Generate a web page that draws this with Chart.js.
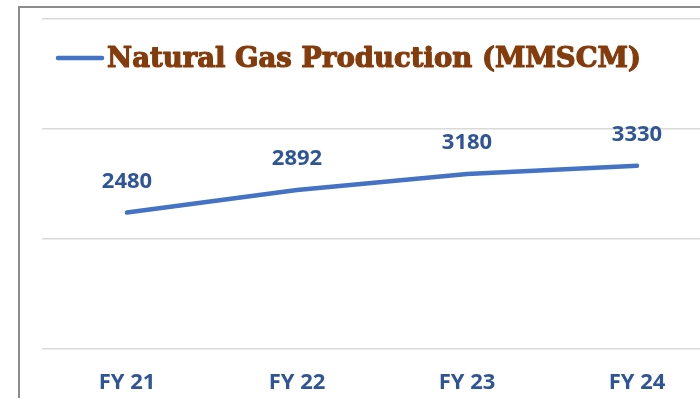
<!DOCTYPE html>
<html>
<head>
<meta charset="utf-8">
<script src="https://cdn.jsdelivr.net/npm/chart.js@4.4.1/dist/chart.umd.min.js"></script>
<style>
    html, body {
        margin: 0;
        padding: 0;
        width: 700px;
        height: 398px;
        overflow: hidden;
        background: #ffffff;
    }
    .frame {
        position: absolute;
        left: 18px;
        top: 6px;
        width: 760px;
        height: 460px;
        border: 2px solid #8c8c8c;
        box-sizing: border-box;
    }
    .chart-wrap {
        position: absolute;
        left: 0;
        top: 0;
        width: 722px;
        height: 398px;
    }
</style>
</head>
<body>
<div class="frame"></div>
<div class="chart-wrap">
    <canvas id="gasChart" width="722" height="398"></canvas>
</div>
<script>
const years = ['FY 21', 'FY 22', 'FY 23', 'FY 24'];
const gasProduction = [2480, 2892, 3180, 3330];
const yTicks = [0, 2000, 4000, 6000];
const seriesName = 'Natural Gas Production (MMSCM)';

const LINE_COLOR = '#4472c4';
const LABEL_COLOR = '#2f5597';
const TITLE_COLOR = '#843c0c';
const GRID_COLOR = '#d9d9d9';
const LABEL_FAMILY = '"Open Sans"';
const LABEL_FONT = 'bold 22px ' + LABEL_FAMILY;
const TITLE_FONT = 'bold 27.5px "DejaVu Serif"';

// legend drawn inside the plot, line sample + series name
const legendInPlot = {
    id: 'legendInPlot',
    afterDraw(chart) {
        const ctx = chart.ctx;
        const ds = chart.data.datasets[0];
        ctx.save();
        ctx.strokeStyle = ds.borderColor;
        ctx.lineWidth = 4.5;
        ctx.lineCap = 'round';
        ctx.beginPath();
        ctx.moveTo(58, 58);
        ctx.lineTo(102, 58);
        ctx.stroke();
        // slab-serif look: fill plus a thin stroke to thicken the glyphs
        ctx.fillStyle = TITLE_COLOR;
        ctx.strokeStyle = TITLE_COLOR;
        ctx.lineWidth = 1.2;
        ctx.lineJoin = 'round';
        ctx.font = TITLE_FONT;
        ctx.textBaseline = 'alphabetic';
        ctx.textAlign = 'left';
        ctx.fillText(ds.label, 107, 67);
        ctx.strokeText(ds.label, 107, 67);
        ctx.restore();
    }
};

// value labels above each point
const valueLabels = {
    id: 'valueLabels',
    afterDatasetsDraw(chart) {
        const ctx = chart.ctx;
        const meta = chart.getDatasetMeta(0);
        const values = chart.data.datasets[0].data;
        ctx.save();
        ctx.fillStyle = LABEL_COLOR;
        ctx.font = LABEL_FONT;
        ctx.textAlign = 'center';
        ctx.textBaseline = 'middle';
        meta.data.forEach((pt, i) => {
            ctx.fillText(String(values[i]), pt.x, pt.y - 31);
        });
        ctx.restore();
    }
};

function buildChart() {
    new Chart(document.getElementById('gasChart'), {
        type: 'line',
        data: {
            labels: years,
            datasets: [{
                label: seriesName,
                data: gasProduction,
                borderColor: LINE_COLOR,
                backgroundColor: LINE_COLOR,
                borderWidth: 4.5,
                borderCapStyle: 'round',
                tension: 0,
                pointRadius: 0,
                fill: false
            }]
        },
        options: {
            responsive: false,
            animation: false,
            layout: {
                padding: { left: 42, right: 0, top: 19, bottom: 0 }
            },
            plugins: {
                legend: { display: false },
                tooltip: { enabled: false }
            },
            scales: {
                x: {
                    offset: true,
                    grid: { display: false, drawTicks: false },
                    border: { display: false },
                    afterFit: axis => { axis.height = 49; },
                    ticks: {
                        color: LABEL_COLOR,
                        padding: 21,
                        font: { family: LABEL_FAMILY, weight: 'bold', size: 22 }
                    }
                },
                y: {
                    min: yTicks[0],
                    max: yTicks[yTicks.length - 1],
                    afterBuildTicks: axis => {
                        axis.ticks = yTicks.map(v => ({ value: v }));
                    },
                    grid: { color: GRID_COLOR, lineWidth: 1.5, drawTicks: false },
                    border: { display: false },
                    ticks: { display: false }
                }
            }
        },
        plugins: [legendInPlot, valueLabels]
    });
}

// make sure the bold faces are ready before the single (non-animated) draw
Promise.all([
    document.fonts.load(LABEL_FONT, '0123456789FY'),
    document.fonts.load(TITLE_FONT, seriesName)
]).catch(() => {}).then(buildChart);
</script>
</body>
</html>
